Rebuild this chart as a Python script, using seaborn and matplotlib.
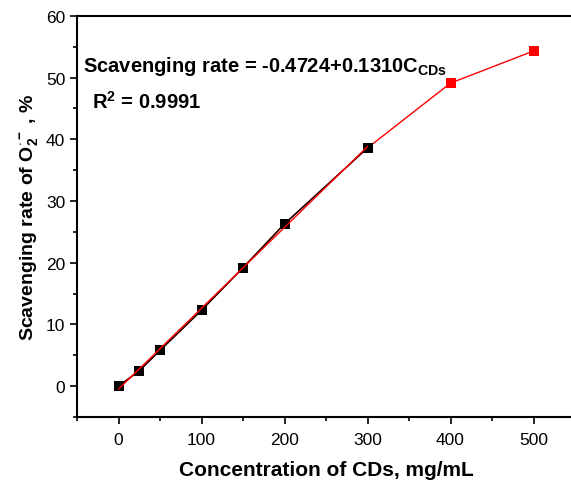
import numpy as np
import matplotlib
matplotlib.use("Agg")
import matplotlib.pyplot as plt
from matplotlib import ticker
import seaborn as sns
import pandas as pd

sns.set_style("ticks")
plt.rcParams["font.family"] = ["Liberation Sans", "DejaVu Sans"]
plt.rcParams["mathtext.fontset"] = "custom"
plt.rcParams["mathtext.rm"] = "Liberation Sans"
plt.rcParams["mathtext.bf"] = "Liberation Sans:bold"
plt.rcParams["mathtext.it"] = "Liberation Sans:italic"
plt.rcParams["text.color"] = "black"
plt.rcParams["axes.labelcolor"] = "black"
plt.rcParams["xtick.color"] = "black"
plt.rcParams["ytick.color"] = "black"
plt.rcParams["axes.edgecolor"] = "black"

# Data
conc = [0, 25, 50, 100, 150, 200, 300, 400, 500]
rate = [0.0, 2.5, 5.8, 12.3, 19.2, 26.3, 38.6, 49.1, 54.3]
fit_intercept = -0.4724
fit_slope = 0.1310
r_squared = 0.9991
n_linear = 7  # points used for the linear fit (0-300)

df = pd.DataFrame({"conc": conc, "rate": rate})
lin = df.iloc[:n_linear]
fit = pd.DataFrame({"conc": [0, 300]})
fit["rate"] = fit_intercept + fit_slope * fit["conc"]

fig = plt.figure(figsize=(5.71, 4.81), dpi=100)
ax = fig.add_axes([0.135, 0.131, 0.872, 0.834])

sns.lineplot(data=df, x="conc", y="rate", color="red", lw=1, marker="s",
             markersize=7.5, markeredgewidth=0, ax=ax, zorder=2)
sns.lineplot(data=lin, x="conc", y="rate", color="black", lw=1, marker="s",
             markersize=7.5, markeredgewidth=0, ax=ax, zorder=3)
sns.lineplot(data=fit, x="conc", y="rate", color="red", lw=1, ax=ax, zorder=4)

ax.set_xlim(-50, 550)
ax.set_ylim(-5, 60)
ax.xaxis.set_major_locator(ticker.MultipleLocator(100))
ax.xaxis.set_minor_locator(ticker.MultipleLocator(50))
ax.yaxis.set_major_locator(ticker.MultipleLocator(10))
ax.yaxis.set_minor_locator(ticker.MultipleLocator(5))
ax.tick_params(which="major", direction="out", length=5, width=1.2, labelsize=12.5)
ax.tick_params(which="minor", direction="out", length=3, width=1.2)
ax.tick_params(axis="x", pad=6)
for s in ["left", "bottom", "top"]:
    ax.spines[s].set_linewidth(1.5)
ax.spines["right"].set_visible(False)

ax.set_xlabel("Concentration of CDs, mg/mL", fontsize=15, fontweight="bold", labelpad=9)
ax.set_ylabel(r"Scavenging rate of O$_\mathbf{2}^{\mathbf{\cdot -}}$ , %",
              fontsize=14, fontweight="bold", labelpad=4)

ax.text(0.012, 0.875,
        r"Scavenging rate = %.4f+%.4fC$_\mathbf{CDs}$" % (fit_intercept, fit_slope),
        transform=ax.transAxes, fontsize=14.5, fontweight="bold", va="center")
ax.text(0.03, 0.788, r"R$^\mathbf{2}$ = %.4f" % r_squared,
        transform=ax.transAxes, fontsize=14.5, fontweight="bold", va="center")

fig.savefig("out.png", dpi=100)
